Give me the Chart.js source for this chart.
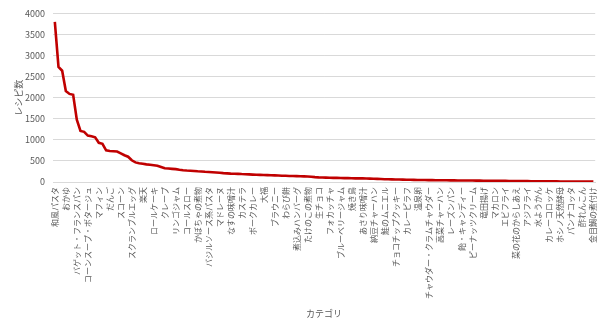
<!DOCTYPE html>
<html lang="ja">
<head>
<meta charset="utf-8">
<title>カテゴリ別レシピ数</title>
<script src="https://cdn.jsdelivr.net/npm/chart.js@4.4.1/dist/chart.umd.min.js"></script>
<style>
    html, body { margin: 0; padding: 0; background: #ffffff; }
    #wrap { position: relative; width: 608px; height: 322px; }
</style>
</head>
<body>
<div id="wrap"><canvas id="recipeChart"></canvas></div>
<script>
// Sichtbare Kategorien (jede dritte Kategorie hat eine Beschriftung)
const categories = [
    '和風パスタ', 'おかゆ', 'バゲット・フランスパン', 'コーンスープ・ポタージュ', 'マフィン',
    'だんご', 'スコーン', 'スクランブルエッグ', '楽天', 'ロールケーキ',
    'クレープ', 'リンゴジャム', 'コールスロー', 'かぼちゃの煮物', 'バジルソース系パスタ',
    'マドレーヌ', 'なすの味噌汁', 'カステラ', 'ポークカレー', '大福',
    'ブラウニー', 'わらび餅', '煮込みハンバーグ', 'たけのこの煮物', '生チョコ',
    'フォカッチャ', 'ブルーベリージャム', '焼き鳥', 'あさり味噌汁', '納豆チャーハン',
    '鮭のムニエル', 'チョコチップクッキー', 'カレーピラフ', '温泉卵', 'チャウダー・クラムチャウダー',
    '高菜チャーハン', 'レーズンパン', '飴・キャンディー', 'ピーナッツクリーム', '竜田揚げ',
    'マカロン', 'エビフライ', '菜の花のからしあえ', 'アジフライ', '水ようかん',
    'カレーコロッケ', 'ホシノ天然酵母', 'パンナコッタ', '酢れんこん', '金目鯛の煮付け'
];

// Rezeptanzahl pro Kategorie (148 Kategorien, absteigend)
const recipeCounts = [
    3800, 2730, 2640, 2160, 2090, 2070, 1480, 1210, 1190, 1100,
    1085, 1060, 930, 905, 750, 735, 728, 722, 680, 635,
    600, 515, 465, 445, 432, 418, 408, 396, 385, 355,
    326, 320, 312, 305, 290, 280, 273, 268, 262, 255,
    250, 243, 238, 232, 226, 218, 210, 204, 198, 196,
    193, 188, 185, 180, 176, 172, 169, 166, 163, 160,
    157, 153, 150, 147, 144, 141, 139, 136, 134, 132,
    124, 116, 110, 106, 103, 101, 99, 97, 95, 93,
    91, 89, 87, 86, 85, 82, 79, 76, 73, 70,
    67, 64, 62, 60, 58, 56, 54, 52, 50, 48,
    47, 46, 45, 44, 43, 42, 41, 40, 39, 38,
    37, 36, 35, 34, 34, 33, 32, 31, 31, 30,
    29, 28, 27, 26, 25, 24, 23, 22, 21, 20,
    19, 18, 17, 16, 15, 15, 14, 14, 13, 13,
    12, 12, 11, 11, 10, 10, 9, 8
];

const yTicks = [0, 500, 1000, 1500, 2000, 2500, 3000, 3500, 4000];

// Beschriftungen aufbauen: nur jede dritte Kategorie ist benannt
const labels = recipeCounts.map((v, i) => (i % 3 === 0 ? (categories[i / 3] || '') : ''));

const textColor = '#595959';
const gridColor = '#d9d9d9';
const jpFont = "'Noto Sans CJK JP', 'Noto Sans', sans-serif";

const config = {
    type: 'line',
    data: {
        labels: labels,
        datasets: [{
            label: 'レシピ数',
            data: recipeCounts,
            borderColor: '#c00000',
            backgroundColor: '#c00000',
            borderWidth: 2.6,
            pointRadius: 0,
            tension: 0,
            fill: false
        }]
    },
    options: {
        responsive: true,
        maintainAspectRatio: false,
        animation: false,
        layout: { padding: { top: 13, right: 8, bottom: 0, left: 0 } },
        plugins: {
            legend: { display: false },
            tooltip: { enabled: false }
        },
        scales: {
            x: {
                type: 'category',
                offset: true,
                afterFit: (scale) => { scale.height = 140; },
                grid: { display: false, drawTicks: false },
                border: { display: true, color: gridColor, width: 1 },
                ticks: {
                    autoSkip: false,
                    minRotation: 90,
                    maxRotation: 90,
                    padding: 5,
                    color: textColor,
                    font: { family: jpFont, size: 8 }
                },
                title: {
                    display: true,
                    text: 'カテゴリ',
                    color: textColor,
                    font: { family: jpFont, size: 9 },
                    padding: { top: 0, bottom: 3 }
                }
            },
            y: {
                min: 0,
                max: 4000,
                afterFit: (scale) => { scale.width = 53; },
                afterBuildTicks: (scale) => { scale.ticks = yTicks.map(v => ({ value: v })); },
                grid: { color: gridColor, lineWidth: 1, drawTicks: false },
                border: { display: false },
                ticks: {
                    padding: 8,
                    color: textColor,
                    font: { family: jpFont, size: 9 },
                    callback: (value) => String(value)
                },
                title: {
                    display: true,
                    text: 'レシピ数',
                    color: textColor,
                    font: { family: jpFont, size: 9 },
                    padding: { top: 13, bottom: 0 }
                }
            }
        }
    }
};

const chartCanvas = document.getElementById('recipeChart');
window.recipeChart = new Chart(chartCanvas, config);
</script>
</body>
</html>
